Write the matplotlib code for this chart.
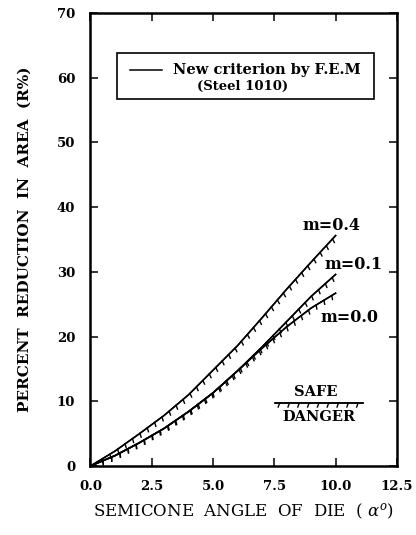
import matplotlib
matplotlib.use('Agg')
import matplotlib.pyplot as plt
import matplotlib.patheffects as pe
from matplotlib.patches import Rectangle
import numpy as np

plt.rcParams['font.family'] = 'DejaVu Serif'
plt.rcParams['mathtext.fontset'] = 'dejavuserif'

# semicone angle (deg) and critical reduction in area (%)
angle = [0, 1, 2, 3, 4, 5, 6, 7, 8, 9, 10]
r_m04 = [0, 2.3, 5.0, 7.8, 11.0, 14.8, 18.6, 22.9, 27.3, 31.5, 35.6]
r_m01 = [0, 1.6, 3.6, 5.8, 8.4, 11.3, 14.7, 18.4, 22.3, 26.2, 29.6]
r_m00 = [0, 1.6, 3.6, 5.8, 8.4, 11.3, 14.7, 18.2, 21.5, 24.4, 26.7]

xticks = [0.0, 2.5, 5.0, 7.5, 10.0, 12.5]
yticks = [0, 10, 20, 30, 40, 50, 60, 70]

# safe / danger marker line
safe_x = [7.53, 11.1]
safe_y = [9.7, 9.7]

fig = plt.figure(figsize=(4.16, 5.35), dpi=100)
ax = fig.add_axes([0.2175, 0.129, 0.7365, 0.8467])

hatch = [pe.withTickedStroke(angle=-110, spacing=6.5, length=0.45, linewidth=1.0),
         pe.Normal()]

for r in [r_m04, r_m01, r_m00]:
    ax.plot(angle, r, color='black', lw=1.1, path_effects=hatch)

ax.plot(safe_x, safe_y, color='black', lw=1.1, path_effects=hatch)

bold = dict(fontweight='bold', fontsize=11.5, ha='center', va='center')
ax.text(9.85, 37.1, 'm=0.4', **bold)
ax.text(10.75, 31.2, 'm=0.1', **bold)
ax.text(10.55, 23.0, 'm=0.0', **bold)
ax.text(9.2, 11.5, 'SAFE', fontweight='bold', fontsize=10.5, ha='center', va='center')
ax.text(9.3, 7.6, 'DANGER', fontweight='bold', fontsize=10.5, ha='center', va='center')

# legend box
ax.add_patch(Rectangle((0.086, 0.8105), 0.841, 0.1015, transform=ax.transAxes,
                       fill=False, lw=1.2, ec='black'))
ax.plot([0.128, 0.233], [0.875, 0.875], transform=ax.transAxes, color='black', lw=1.1)
ax.text(0.268, 0.875, 'New criterion by F.E.M', transform=ax.transAxes,
        fontweight='bold', fontsize=10.5, va='center', ha='left')
ax.text(0.348, 0.838, '(Steel 1010)', transform=ax.transAxes,
        fontweight='bold', fontsize=9.5, va='center', ha='left')

ax.set_xlim(0, 12.5)
ax.set_ylim(0, 70)
ax.set_xticks(xticks)
ax.set_yticks(yticks)
ax.set_xticklabels(['%.1f' % v for v in xticks], fontweight='bold', fontsize=9.5)
ax.set_yticklabels([str(v) for v in yticks], fontweight='bold', fontsize=9.5)
ax.tick_params(direction='in', length=6, width=1.1, top=True, right=True)
ax.tick_params(axis='x', pad=10)
ax.tick_params(axis='y', pad=11)
for s in ax.spines.values():
    s.set_linewidth(1.8)

ax.set_xlabel(r'SEMICONE  ANGLE  OF  DIE  ( $\alpha^o$)', fontsize=12, labelpad=6)
ax.set_ylabel('PERCENT  REDUCTION  IN  AREA  (R%)', fontsize=11, fontweight='bold',
              labelpad=18)

fig.savefig('out.png', dpi=100)
